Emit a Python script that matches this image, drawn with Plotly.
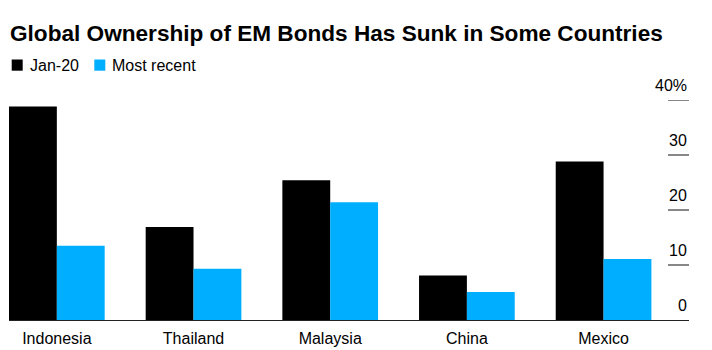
import plotly.graph_objects as go

# Share of local-currency government bonds held by foreign investors (%)
countries = ["Indonesia", "Thailand", "Malaysia", "China", "Mexico"]
jan_20 = [38.8, 16.9, 25.4, 8.1, 28.8]
most_recent = [13.5, 9.3, 21.4, 5.1, 11.1]

y_ticks = [0, 10, 20, 30, 40]
y_tick_text = ["0", "10", "20", "30", "40%"]

FONT = "Liberation Sans, Arial, Helvetica, sans-serif"
BLACK = "#000000"
CYAN = "#00AEFF"

W, H = 712, 350
M_L, M_R, M_T, M_B = 9, 23, 100, 30
PLOT_W = W - M_L - M_R
PLOT_H = H - M_T - M_B


def px_x(px):
    """Horizontal page pixel -> paper fraction."""
    return (px - M_L) / PLOT_W


def px_y(py):
    """Vertical page pixel (from top) -> paper fraction."""
    return (H - M_B - py) / PLOT_H


series = [("Jan-20", jan_20, BLACK), ("Most recent", most_recent, CYAN)]

fig = go.Figure()
for name, vals, color in series:
    fig.add_trace(go.Bar(name=name, x=countries, y=vals, showlegend=False,
                         marker=dict(color=color, line=dict(width=0))))

# Compact legend: swatch followed closely by its label
legend_x = [(11.7, 29.3), (94.3, 111.0)]
for (name, _, color), (sx, tx) in zip(series, legend_x):
    fig.add_shape(type="rect", xref="paper", yref="paper",
                  x0=px_x(sx), x1=px_x(sx + 11), y0=px_y(70.7), y1=px_y(59.5),
                  fillcolor=color, line=dict(width=0))
    fig.add_annotation(xref="paper", yref="paper", x=px_x(tx - 1.5), y=px_y(65.5),
                       text=name, showarrow=False, xanchor="left", yanchor="middle",
                       font=dict(family=FONT, size=16, color=BLACK))

# Right-hand value axis: short tick rules with labels sitting above them
for v, t in zip(y_ticks, y_tick_text):
    if v != 0:
        fig.add_shape(type="line", xref="paper", yref="y",
                      x0=px_x(668), x1=1.0, y0=v, y1=v,
                      line=dict(color="#111111", width=1))
    fig.add_annotation(xref="paper", yref="y", x=1.0, y=v, text=t,
                       showarrow=False, xanchor="right", yanchor="bottom",
                       yshift=4, font=dict(family=FONT, size=16, color=BLACK))

fig.update_layout(
    width=W, height=H,
    margin=dict(l=M_L, r=M_R, t=M_T, b=M_B, autoexpand=False),
    paper_bgcolor="white", plot_bgcolor="white",
    barmode="group", bargap=0.3, bargroupgap=0,
    title=dict(text="<b>Global Ownership of EM Bonds Has Sunk in Some Countries</b>",
               xref="container", yref="container", x=10 / W, xanchor="left",
               y=1 - 33.5 / H, yanchor="middle",
               font=dict(family=FONT, size=22.6, color=BLACK)),
    showlegend=False,
    xaxis=dict(range=[-0.35, 4.625], showline=True, linecolor="#222222", linewidth=1,
               ticks="", showgrid=False, zeroline=False, ticklabelstandoff=4,
               tickfont=dict(family=FONT, size=16, color=BLACK)),
    yaxis=dict(range=[0, 40], showticklabels=False, showgrid=False,
               zeroline=False, ticks=""),
)

fig.write_html("out.html")
